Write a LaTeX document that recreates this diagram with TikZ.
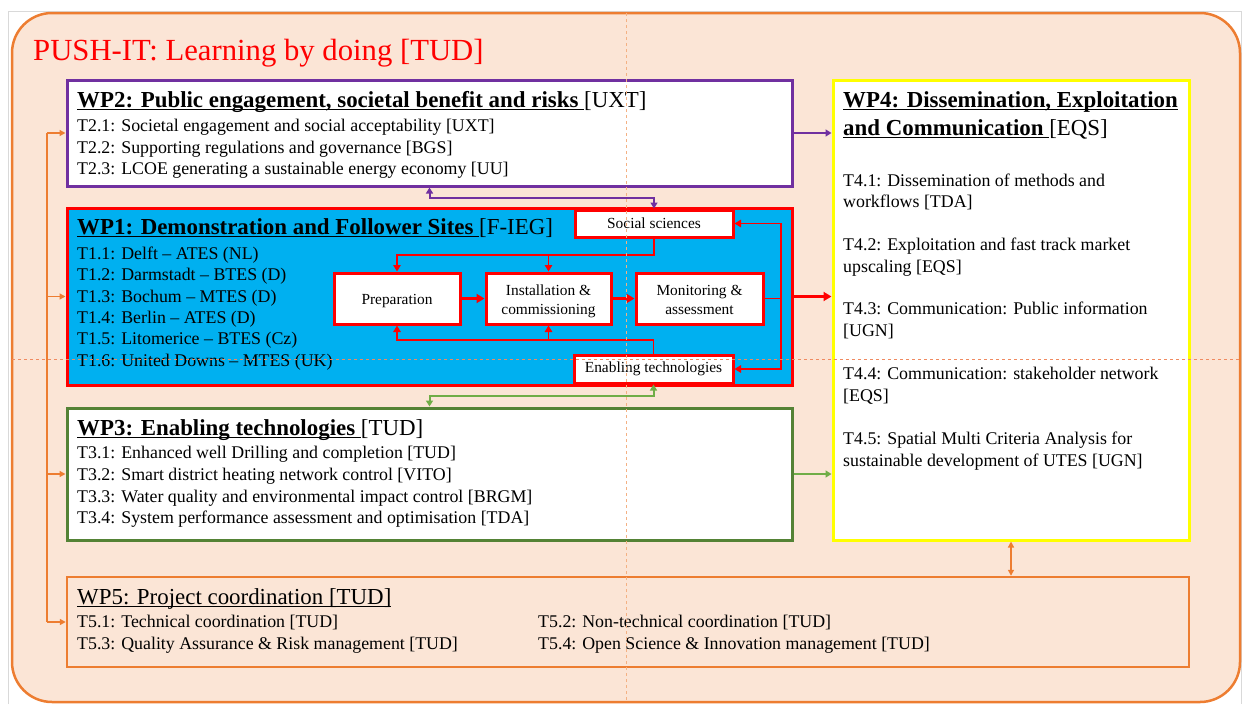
\documentclass[tikz,border=0pt]{standalone}
\usepackage{fontspec}
\setmainfont{Liberation Serif}
\usetikzlibrary{arrows.meta,calc}
\newcommand{\undl}[1]{\setbox0\hbox{#1}\rlap{\rule[-3.4pt]{\wd0}{1.5pt}}\box0}
\newcommand{\lowered}[1]{\raisebox{-3pt}[\height][\depth]{#1}}
\newcommand{\twoline}[2]{\lowered{\begin{tabular}{@{}c@{}}#1\\#2\end{tabular}}}
\definecolor{peach}{HTML}{FBE5D6}
\definecolor{orng}{HTML}{ED7D31}
\definecolor{purp}{HTML}{7030A0}
\definecolor{skyb}{HTML}{00B0F0}
\definecolor{grnb}{HTML}{548235}
\definecolor{grna}{HTML}{70AD47}
\definecolor{yell}{HTML}{FFFF00}
\definecolor{guidev}{HTML}{F4B183}
\definecolor{guideh}{HTML}{F08A60}
\definecolor{frame}{HTML}{D9D9D9}
\begin{document}
\begin{tikzpicture}[x=1pt,y=-1pt,
  wpbox/.style={line width=3pt, fill=white, inner sep=0pt},
  inbox/.style={draw=red, line width=3pt, fill=white, inner sep=0pt, align=center,
    font=\fontsize{15.4}{19}\selectfont},
  txt/.style={anchor=base west, inner sep=0pt, font=\fontsize{17.85}{21.5}\selectfont},
  hdr/.style={anchor=base west, inner sep=0pt, font=\fontsize{22.9}{26}\selectfont},
  thickred/.style={draw=red, line width=3pt, -{Triangle[width=9pt,length=8pt]}},
  thinred/.style={draw=red, line width=1.3pt, -{Triangle[width=7.5pt,length=6.5pt]}},
  purparrow/.style={draw=purp, line width=2pt},
  grnarrow/.style={draw=grna, line width=2pt},
  orngthin/.style={draw=orng, line width=1.4pt},
  guide/.style={line width=1pt, dash pattern=on 3pt off 3pt}
]
\useasboundingbox (0,0) rectangle (1244,704);
% slide frame
\draw[frame, line width=1pt] (8,704) -- (8,11) -- (1241,11) -- (1241,704);
% outer rounded panel
\draw[orng, fill=peach, line width=2.5pt, rounded corners=40pt] (12,13) rectangle (1240,702);
\node[anchor=base west, inner sep=0pt, text=red, font=\fontsize{30.7}{34}\selectfont] (title) at (33,60) {PUSH-IT: Learning by doing [TUD]};

% work package boxes
\node[wpbox, draw=purp, minimum width=725pt, minimum height=106pt] (wp2) at (429.5,133) {};
\node[wpbox, draw=red, fill=skyb, minimum width=725pt, minimum height=177pt] (wp1) at (429.5,296.5) {};
\node[wpbox, draw=grnb, minimum width=725pt, minimum height=132pt] (wp3) at (429.5,474) {};
\node[wpbox, draw=yell, minimum width=356pt, minimum height=460pt] (wp4) at (1011,310) {};
\node[wpbox, draw=orng, fill=none, line width=2.5pt, minimum width=1122pt, minimum height=90pt] (wp5) at (628,622) {};

% WP2 text
\node[hdr] (h2) at (77,107) {\undl{\textbf{WP2: Public engagement, societal benefit and risks}\ }[UXT]};
\node[txt] (t21) at (77,131) {T2.1: Societal engagement and social acceptability [UXT]};
\node[txt] (t22) at (77,153) {T2.2: Supporting regulations and governance [BGS]};
\node[txt] (t23) at (77,174) {T2.3: LCOE generating a sustainable energy economy [UU]};

% WP1 text
\node[hdr] (h1) at (77,234) {\undl{\textbf{WP1: Demonstration and Follower Sites}\ }[F-IEG]};
\node[txt] (t11) at (77,259) {T1.1: Delft -- ATES (NL)};
\node[txt] (t12) at (77,280) {T1.2: Darmstadt -- BTES (D)};
\node[txt] (t13) at (77,302) {T1.3: Bochum -- MTES (D)};
\node[txt] (t14) at (77,323) {T1.4: Berlin -- ATES (D)};
\node[txt] (t15) at (77,344) {T1.5: Litomerice -- BTES (Cz)};
\node[txt] (t16) at (77,366) {T1.6: United Downs -- MTES (UK)};

% WP1 inner boxes
\node[inbox, minimum width=158pt, minimum height=27pt] (soc) at (654,223.5) {Social sciences};
\node[inbox, minimum width=159pt, minimum height=28pt] (ena) at (653.5,369) {Enabling technologies};
\node[inbox, minimum width=126pt, minimum height=51pt] (prep) at (397,298.5) {\lowered{Preparation}};
\node[inbox, minimum width=125pt, minimum height=51pt] (inst) at (548.5,298.5) {\twoline{Installation \&}{commissioning}};
\node[inbox, minimum width=127pt, minimum height=51pt] (mon) at (699.5,298.5) {\twoline{Monitoring \&}{assessment}};

% WP3 text
\node[hdr] (h3) at (77,435) {\undl{\textbf{WP3: Enabling technologies}\ }[TUD]};
\node[txt] (t31) at (77,458) {T3.1: Enhanced well Drilling and completion [TUD]};
\node[txt] (t32) at (77,480) {T3.2: Smart district heating network control [VITO]};
\node[txt] (t33) at (77,502) {T3.3: Water quality and environmental impact control [BRGM]};
\node[txt] (t34) at (77,523) {T3.4: System performance assessment and optimisation [TDA]};

% WP4 text
\node[hdr] (h4a) at (843,107) {\undl{\textbf{WP4: Dissemination, Exploitation}}};
\node[hdr] (h4b) at (843,135) {\undl{\textbf{and Communication}\ }[EQS]};
\node[txt] (t41a) at (843,186) {T4.1: Dissemination of methods and};
\node[txt] (t41b) at (843,207) {workflows [TDA]};
\node[txt] (t42a) at (843,250) {T4.2: Exploitation and fast track market};
\node[txt] (t42b) at (843,272) {upscaling [EQS]};
\node[txt] (t43a) at (843,314) {T4.3: Communication: Public information};
\node[txt] (t43b) at (843,336) {[UGN]};
\node[txt] (t44a) at (843,379) {T4.4: Communication: stakeholder network};
\node[txt] (t44b) at (843,401) {[EQS]};
\node[txt] (t45a) at (843,444) {T4.5: Spatial Multi Criteria Analysis for};
\node[txt] (t45b) at (843,466) {sustainable development of UTES [UGN]};

% WP5 text
\node[hdr] (h5) at (77,604) {\undl{WP5: Project coordination [TUD]}};
\node[txt] (t51) at (77,627) {T5.1: Technical coordination [TUD]};
\node[txt] (t52) at (538,627) {T5.2: Non-technical coordination [TUD]};
\node[txt] (t53) at (77,649) {T5.3: Quality Assurance \& Risk management [TUD]};
\node[txt] (t54) at (538,649) {T5.4: Open Science \& Innovation management [TUD]};

% helper coordinates
\coordinate (sy) at (0,255);
\coordinate (ey) at (0,340);
\coordinate (mx) at (781,0);
\coordinate (py) at (0,198);
\coordinate (gy) at (0,396);
\coordinate (lb) at (47,0);

% WP1 internal flow
\draw[thickred] (prep) -- (inst);
\draw[thickred] (inst) -- (mon);
\draw[thinred] (soc.south) |- (prep.north |- sy) -- (prep.north);
\draw[thinred] (inst.north |- sy) -- (inst.north);
\draw[thinred] (ena.north) |- (prep.south |- ey) -- (prep.south);
\draw[thinred] (inst.south |- ey) -- (inst.south);
\draw[thinred] (mon.east) -| (mx |- soc.east) -- (soc.east);
\draw[thinred] (mx |- mon.east) |- (ena.east);

% connectors between work packages
\draw[thickred] (wp1.east) -- (wp1.east -| wp4.west);
\draw[purparrow, {Triangle[width=7pt,length=6pt]}-{Triangle[width=7pt,length=6pt]}] (wp2.south) |- (soc.north |- py) -- (soc.north);
\draw[grnarrow, {Triangle[width=7pt,length=6pt]}-{Triangle[width=7pt,length=6pt]}] (wp3.north) |- (ena.south |- gy) -- (ena.south);
\draw[purparrow, -{Triangle[width=7pt,length=6pt]}] (wp2.east) -- (wp2.east -| wp4.west);
\draw[grnarrow, -{Triangle[width=7pt,length=6pt]}] (wp3.east) -- (wp3.east -| wp4.west);
\draw[orngthin, {Triangle[width=6pt,length=6pt]}-{Triangle[width=6pt,length=6pt]}] (wp4.south) -- (wp4.south |- wp5.north);
\draw[orngthin] (wp2.west -| lb) -- (wp5.west -| lb);
\draw[orngthin, -{Triangle[width=6pt,length=6pt]}] (wp2.west -| lb) -- (wp2.west);
\draw[orngthin, -{Triangle[width=6pt,length=6pt]}] (wp1.west -| lb) -- (wp1.west);
\draw[orngthin, -{Triangle[width=6pt,length=6pt]}] (wp3.west -| lb) -- (wp3.west);
\draw[orngthin, -{Triangle[width=6pt,length=6pt]}] (wp5.west -| lb) -- (wp5.west);

% slide guides
\draw[guide, guidev] (626,13) -- (626,702);
\draw[guide, guideh] (12,359) -- (1240,359);
\end{tikzpicture}
\end{document}
